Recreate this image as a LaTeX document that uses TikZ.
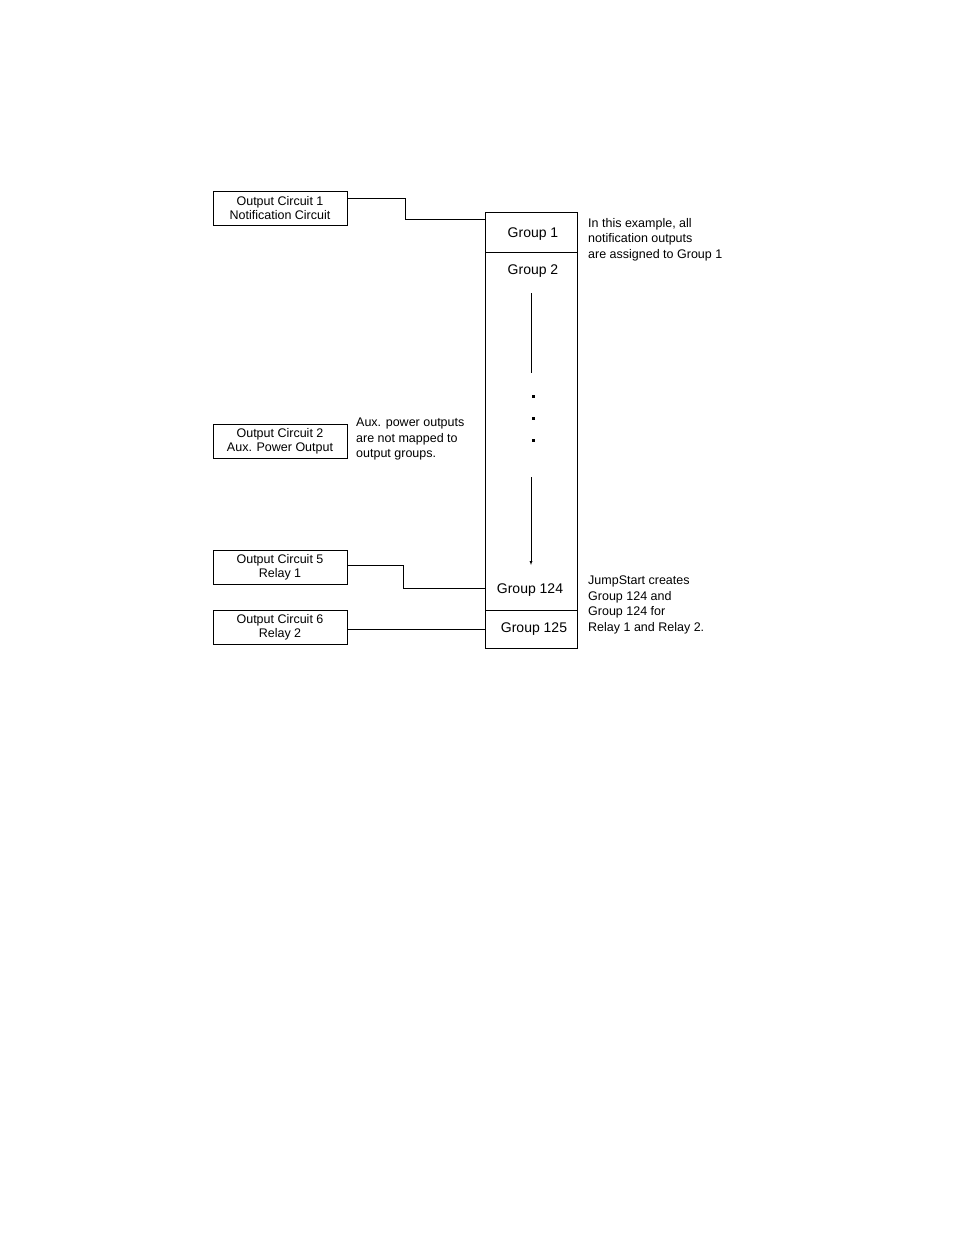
\documentclass[tikz,border=0pt]{standalone}
\usepackage{fontspec}
\setmainfont{Liberation Sans}
\usetikzlibrary{positioning}
\begin{document}
\begin{tikzpicture}
        [x=1pt,y=-1pt,thin,
         circuit/.style={draw,minimum width=134pt,minimum height=34pt,inner sep=1pt,align=center,font=\fontsize{12.5}{14}\selectfont},
         note/.style={align=left,anchor=north west,inner sep=0pt,font=\fontsize{12.5}{15.5}\selectfont},
         group/.style={font=\fontsize{14}{16}\selectfont},
         dotmark/.style={fill,minimum size=3pt,inner sep=0pt}]
        \useasboundingbox (0,0) rectangle (954,1235);
        % output circuits
        \node[circuit] (oc1) at (280,208) {Output Circuit 1\\Notification Circuit};
        \node[circuit] (oc2) at (280,441) {Output Circuit 2\\Aux. Power Output};
        \node[circuit] (oc5) at (280,567) {Output Circuit 5\\Relay 1};
        \node[circuit] (oc6) at (280,627) {Output Circuit 6\\Relay 2};
        
        % group column
        \draw (485,212) rectangle (577,648);
        \draw (485,252) -- (577,252);
        \draw (485,610) -- (577,610);
        \node[group] (g1) at (533,234) {Group 1};
        \node[group] (g2) at (533,271) {Group 2};
        \node[group] (g124) at (530,590) {Group 124};
        \node[group] (g125) at (534,629) {Group 125};
        \coordinate (in1) at (485,219);
        \coordinate (in124) at (485,588);
        \coordinate (in125) at (485,629);
        
        % connectors
        \draw (oc1.east |- 0,198) -- (405,198) |- (in1);
        \draw (oc5.east |- 0,565) -- (403,565) |- (in124);
        \draw (oc6.east |- in125) -- (in125);
        
        % arrow and dots
        \coordinate (a1) at (531,293);
        \coordinate (a2) at (531,373);
        \coordinate (a3) at (531,477);
        \coordinate (a4) at (531,565);
        \draw (a1) -- (a2);
        \draw[-latex] (a3) -- (a4);
        \foreach \y in {396,418,440}
            \node[dotmark] at (533,\y) {};
        
        % notes
        \node[note] (n1) at (588,218) {In this example, all\\notification outputs\\are assigned to Group 1};
        \node[note] (n2) at (356,418) {Aux. power outputs\\are not mapped to\\output groups.};
        \node[note] (n3) at (588,576) {JumpStart creates\\Group 124 and\\Group 124 for\\Relay 1 and Relay 2.};
\end{tikzpicture}
\end{document}
